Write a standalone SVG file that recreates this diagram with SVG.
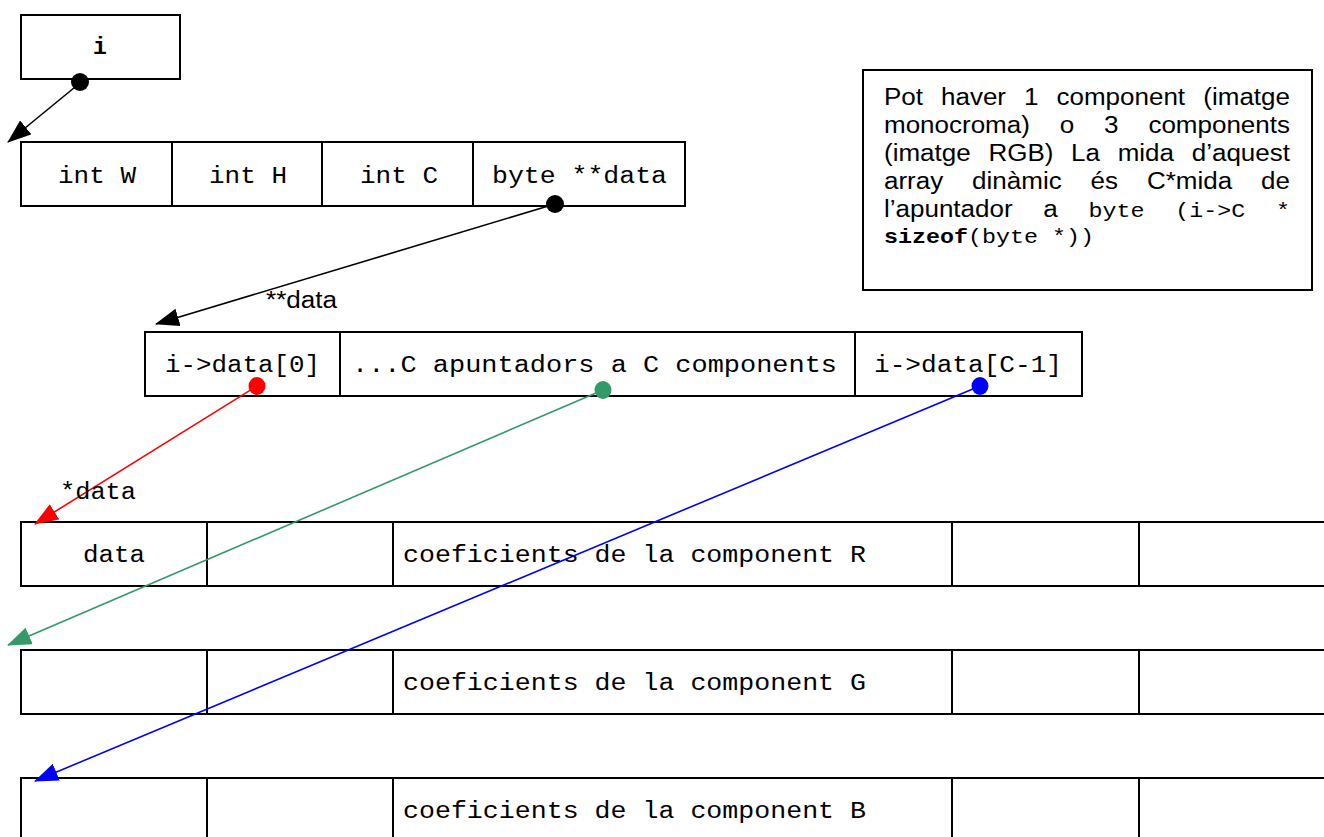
<svg xmlns="http://www.w3.org/2000/svg" width="1324" height="837" viewBox="0 0 1324 837">
  <style>
    .box { fill: #ffffff; stroke: #000000; stroke-width: 2; }
    .div { stroke: #000000; stroke-width: 2; }
    .mono { font-family: "Liberation Mono", "Courier New", monospace; font-size: 23px; fill: #000000; }
    .nmono { font-family: "Liberation Mono", "Courier New", monospace; font-size: 21px; fill: #000000; }
    .sans { font-family: "Liberation Sans", Arial, sans-serif; font-size: 23px; fill: #000000; }
    .link { fill: none; stroke-width: 1.6; }
  </style>
  <defs>
    <marker id="headBlack" markerUnits="userSpaceOnUse" markerWidth="24" markerHeight="18" refX="23" refY="9" orient="auto">
      <path d="M0,0 L24,9 L0,18 z" fill="#000000"/>
    </marker>
    <marker id="headRed" markerUnits="userSpaceOnUse" markerWidth="24" markerHeight="18" refX="23" refY="9" orient="auto">
      <path d="M0,0 L24,9 L0,18 z" fill="#ff0000"/>
    </marker>
    <marker id="headGreen" markerUnits="userSpaceOnUse" markerWidth="24" markerHeight="18" refX="23" refY="9" orient="auto">
      <path d="M0,0 L24,9 L0,18 z" fill="#339966"/>
    </marker>
    <marker id="headBlue" markerUnits="userSpaceOnUse" markerWidth="24" markerHeight="18" refX="23" refY="9" orient="auto">
      <path d="M0,0 L24,9 L0,18 z" fill="#0000ff"/>
    </marker>
  </defs>
  <rect width="1324" height="837" fill="#ffffff"/>

  <!-- variable i -->
  <g id="node-i">
    <rect class="box" x="21" y="15" width="159" height="64"/>
    <text class="mono" x="100" y="54" text-anchor="middle" font-weight="bold">i</text>
  </g>

  <!-- image struct: W, H, C, data -->
  <g id="node-struct">
    <rect class="box" x="21" y="142" width="664" height="64"/>
    <line class="div" x1="172" y1="142" x2="172" y2="206"/>
    <line class="div" x1="322" y1="142" x2="322" y2="206"/>
    <line class="div" x1="473" y1="142" x2="473" y2="206"/>
    <text class="mono" x="58" y="183" textLength="78" lengthAdjust="spacingAndGlyphs">int W</text>
    <text class="mono" x="209" y="183" textLength="78" lengthAdjust="spacingAndGlyphs">int H</text>
    <text class="mono" x="360" y="183" textLength="78" lengthAdjust="spacingAndGlyphs">int C</text>
    <text class="mono" x="492" y="183" textLength="175" lengthAdjust="spacingAndGlyphs">byte **data</text>
  </g>

  <!-- explanatory note, justified word by word -->
  <g id="node-note">
    <rect class="box" x="863" y="70" width="449" height="220"/>
    <!-- line 1 -->
    <text class="sans" x="884" y="105" textLength="39" lengthAdjust="spacingAndGlyphs">Pot</text>
    <text class="sans" x="941" y="105" textLength="65" lengthAdjust="spacingAndGlyphs">haver</text>
    <text class="sans" x="1024" y="105" textLength="14.5" lengthAdjust="spacingAndGlyphs">1</text>
    <text class="sans" x="1056.5" y="105" textLength="128.6" lengthAdjust="spacingAndGlyphs">component</text>
    <text class="sans" x="1203.3" y="105" textLength="86.7" lengthAdjust="spacingAndGlyphs">(imatge</text>
    <!-- line 2 -->
    <text class="sans" x="884" y="133" textLength="145.9" lengthAdjust="spacingAndGlyphs">monocroma)</text>
    <text class="sans" x="1059.7" y="133" textLength="14.5" lengthAdjust="spacingAndGlyphs">o</text>
    <text class="sans" x="1104" y="133" textLength="14.5" lengthAdjust="spacingAndGlyphs">3</text>
    <text class="sans" x="1148.4" y="133" textLength="141.6" lengthAdjust="spacingAndGlyphs">components</text>
    <!-- line 3 -->
    <text class="sans" x="884" y="161" textLength="86.7" lengthAdjust="spacingAndGlyphs">(imatge</text>
    <text class="sans" x="988.4" y="161" textLength="65" lengthAdjust="spacingAndGlyphs">RGB)</text>
    <text class="sans" x="1071.1" y="161" textLength="28.9" lengthAdjust="spacingAndGlyphs">La</text>
    <text class="sans" x="1117.7" y="161" textLength="56.3" lengthAdjust="spacingAndGlyphs">mida</text>
    <text class="sans" x="1191.7" y="161" textLength="98.3" lengthAdjust="spacingAndGlyphs">d’aquest</text>
    <!-- line 4 -->
    <text class="sans" x="884" y="189" textLength="59.2" lengthAdjust="spacingAndGlyphs">array</text>
    <text class="sans" x="972.1" y="189" textLength="89.6" lengthAdjust="spacingAndGlyphs">dinàmic</text>
    <text class="sans" x="1090.6" y="189" textLength="27.5" lengthAdjust="spacingAndGlyphs">és</text>
    <text class="sans" x="1147" y="189" textLength="85.2" lengthAdjust="spacingAndGlyphs">C*mida</text>
    <text class="sans" x="1261.1" y="189" textLength="28.9" lengthAdjust="spacingAndGlyphs">de</text>
    <!-- line 5 -->
    <text class="sans" x="884" y="217" textLength="128.6" lengthAdjust="spacingAndGlyphs">l’apuntador</text>
    <text class="sans" x="1043.3" y="217" textLength="14.5" lengthAdjust="spacingAndGlyphs">a</text>
    <text class="nmono" x="1088.5" y="217" textLength="56" lengthAdjust="spacingAndGlyphs">byte</text>
    <text class="nmono" x="1175.2" y="217" textLength="70" lengthAdjust="spacingAndGlyphs">(i-&gt;C</text>
    <text class="nmono" x="1276" y="217" textLength="14" lengthAdjust="spacingAndGlyphs">*</text>
    <!-- line 6 -->
    <text class="nmono" x="884" y="243" font-weight="bold" textLength="84" lengthAdjust="spacingAndGlyphs">sizeof</text>
    <text class="nmono" x="968" y="243" textLength="126" lengthAdjust="spacingAndGlyphs">(byte *))</text>
  </g>

  <!-- array of component pointers -->
  <g id="node-pointers">
    <rect class="box" x="145" y="332" width="937" height="64"/>
    <line class="div" x1="340" y1="332" x2="340" y2="396"/>
    <line class="div" x1="855" y1="332" x2="855" y2="396"/>
    <text class="mono" x="165" y="372" textLength="155" lengthAdjust="spacingAndGlyphs">i-&gt;data[0]</text>
    <text class="mono" x="352" y="372" textLength="485" lengthAdjust="spacingAndGlyphs">...C apuntadors a C components</text>
    <text class="mono" x="874" y="372" textLength="188" lengthAdjust="spacingAndGlyphs">i-&gt;data[C-1]</text>
  </g>

  <!-- component R -->
  <g id="node-row-r">
    <rect class="box" x="21" y="522" width="1320" height="64"/>
    <line class="div" x1="207" y1="522" x2="207" y2="586"/>
    <line class="div" x1="393" y1="522" x2="393" y2="586"/>
    <line class="div" x1="952" y1="522" x2="952" y2="586"/>
    <line class="div" x1="1139" y1="522" x2="1139" y2="586"/>
    <text class="mono" x="83" y="562" textLength="62" lengthAdjust="spacingAndGlyphs">data</text>
    <text class="mono" x="403" y="562" textLength="463" lengthAdjust="spacingAndGlyphs">coeficients de la component R</text>
  </g>

  <!-- component G -->
  <g id="node-row-g">
    <rect class="box" x="21" y="650" width="1320" height="64"/>
    <line class="div" x1="207" y1="650" x2="207" y2="714"/>
    <line class="div" x1="393" y1="650" x2="393" y2="714"/>
    <line class="div" x1="952" y1="650" x2="952" y2="714"/>
    <line class="div" x1="1139" y1="650" x2="1139" y2="714"/>
    <text class="mono" x="403" y="690" textLength="463" lengthAdjust="spacingAndGlyphs">coeficients de la component G</text>
  </g>

  <!-- component B -->
  <g id="node-row-b">
    <rect class="box" x="21" y="778" width="1320" height="64"/>
    <line class="div" x1="207" y1="778" x2="207" y2="842"/>
    <line class="div" x1="393" y1="778" x2="393" y2="842"/>
    <line class="div" x1="952" y1="778" x2="952" y2="842"/>
    <line class="div" x1="1139" y1="778" x2="1139" y2="842"/>
    <text class="mono" x="403" y="818" textLength="463" lengthAdjust="spacingAndGlyphs">coeficients de la component B</text>
  </g>

  <!-- pointer connectors -->
  <g id="connectors">
    <line class="link" stroke="#000000" x1="80" y1="83" x2="8" y2="142" marker-end="url(#headBlack)"/>
    <circle cx="80" cy="82" r="9" fill="#000000"/>

    <line class="link" stroke="#000000" x1="555" y1="204" x2="156" y2="324" marker-end="url(#headBlack)"/>
    <circle cx="555" cy="204" r="9" fill="#000000"/>
    <text class="sans" x="266" y="308" font-size="22" textLength="71" lengthAdjust="spacingAndGlyphs">**data</text>

    <line class="link" stroke="#ff0000" x1="257" y1="386" x2="35" y2="524" marker-end="url(#headRed)"/>
    <ellipse cx="257" cy="386" rx="8.5" ry="9" fill="#ff0000"/>
    <text class="mono" x="60" y="499" textLength="76" lengthAdjust="spacingAndGlyphs">*data</text>

    <line class="link" stroke="#339966" x1="603" y1="390" x2="8" y2="645" marker-end="url(#headGreen)"/>
    <ellipse cx="603" cy="390" rx="8.5" ry="9" fill="#339966"/>

    <line class="link" stroke="#0000ff" x1="980" y1="386" x2="35" y2="781" marker-end="url(#headBlue)"/>
    <ellipse cx="980" cy="386" rx="8.5" ry="9" fill="#0000ff"/>
  </g>
</svg>
